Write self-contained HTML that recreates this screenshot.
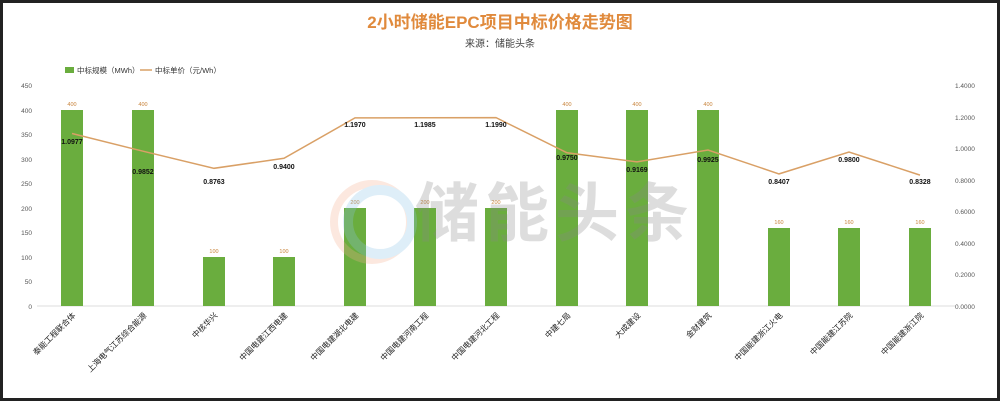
<!DOCTYPE html><html><head><meta charset="utf-8"><style>
body{margin:0;background:#fff}
svg text{font-family:"Liberation Sans","Noto Sans CJK SC",sans-serif}
</style></head><body>
<svg width="1000" height="401" viewBox="0 0 1000 401" xmlns="http://www.w3.org/2000/svg">
<rect x="1.5" y="1.5" width="997" height="398" fill="#fff" stroke="#222" stroke-width="3"/>
<text x="500" y="28" text-anchor="middle" font-size="17" font-weight="bold" fill="#e08a3c">2小时储能EPC项目中标价格走势图</text>
<text x="500" y="47" text-anchor="middle" font-size="10" fill="#444">来源：储能头条</text>
<rect x="65" y="67" width="9" height="6" fill="#6aad3e"/>
<text x="77" y="73" font-size="7.5" fill="#333">中标规模（MWh）</text>
<line x1="140" y1="70" x2="152" y2="70" stroke="#d9a066" stroke-width="1.5"/>
<text x="155" y="73" font-size="7.5" fill="#333">中标单价（元/Wh）</text>
<g font-size="6.5" fill="#555" text-anchor="end">
<text x="32" y="88">450</text><text x="32" y="113">400</text><text x="32" y="137">350</text><text x="32" y="162">300</text><text x="32" y="186">250</text><text x="32" y="211">200</text><text x="32" y="235">150</text><text x="32" y="260">100</text><text x="32" y="284">50</text><text x="32" y="309">0</text>
</g>
<g font-size="6.5" fill="#555">
<text x="955" y="88">1.4000</text><text x="955" y="120">1.2000</text><text x="955" y="151">1.0000</text><text x="955" y="183">0.8000</text><text x="955" y="214">0.6000</text><text x="955" y="246">0.4000</text><text x="955" y="277">0.2000</text><text x="955" y="309">0.0000</text>
</g>
<line x1="37" y1="306" x2="955" y2="306" stroke="#ddd"/>
<g fill="#6aad3e">
<rect x="61" y="110" width="22" height="196"/><rect x="132" y="110" width="22" height="196"/><rect x="203" y="257" width="22" height="49"/><rect x="273" y="257" width="22" height="49"/><rect x="344" y="208" width="22" height="98"/><rect x="414" y="208" width="22" height="98"/><rect x="485" y="208" width="22" height="98"/><rect x="556" y="110" width="22" height="196"/><rect x="626" y="110" width="22" height="196"/><rect x="697" y="110" width="22" height="196"/><rect x="768" y="228" width="22" height="78"/><rect x="838" y="228" width="22" height="78"/><rect x="909" y="228" width="22" height="78"/>
</g>
<g font-size="5.5" fill="#c8843c" text-anchor="middle">
<text x="72" y="106">400</text><text x="143" y="106">400</text><text x="214" y="253">100</text><text x="284" y="253">100</text><text x="355" y="204">200</text><text x="425" y="204">200</text><text x="496" y="204">200</text><text x="567" y="106">400</text><text x="637" y="106">400</text><text x="708" y="106">400</text><text x="779" y="224">160</text><text x="849" y="224">160</text><text x="920" y="224">160</text>
</g>
<g opacity="0.28">
<circle cx="372" cy="222" r="38" fill="none" stroke="#f5b090" stroke-width="8"/>
<circle cx="380" cy="222" r="32" fill="none" stroke="#8dc4e8" stroke-width="10"/>
<text x="555" y="236" text-anchor="middle" font-size="64" font-weight="bold" fill="#888" letter-spacing="6">储能头条</text>
</g>
<polyline fill="none" stroke="#d9a066" stroke-width="1.5" points="72,133.5 143,151.2 214,168.3 284,158.3 355,117.9 425,117.7 496,117.6 567,152.8 637,161.9 708,150 779,173.9 849,152 920,175.1"/>
<g font-size="7" font-weight="bold" fill="#111" text-anchor="middle">
<text x="72" y="144">1.0977</text><text x="143" y="174">0.9852</text><text x="214" y="184">0.8763</text><text x="284" y="169">0.9400</text><text x="355" y="127">1.1970</text><text x="425" y="127">1.1985</text><text x="496" y="127">1.1990</text><text x="567" y="160">0.9750</text><text x="637" y="172">0.9169</text><text x="708" y="162">0.9925</text><text x="779" y="184">0.8407</text><text x="849" y="162">0.9800</text><text x="920" y="184">0.8328</text>
</g>
<g font-size="8" fill="#222" text-anchor="end">
<text transform="translate(76,316) rotate(-45)">泰能工程联合体</text>
<text transform="translate(147,316) rotate(-45)">上海电气江苏综合能源</text>
<text transform="translate(218,316) rotate(-45)">中核华兴</text>
<text transform="translate(288,316) rotate(-45)">中国电建江西电建</text>
<text transform="translate(359,316) rotate(-45)">中国电建湖北电建</text>
<text transform="translate(429,316) rotate(-45)">中国电建河南工程</text>
<text transform="translate(500,316) rotate(-45)">中国电建河北工程</text>
<text transform="translate(571,316) rotate(-45)">中建七局</text>
<text transform="translate(641,316) rotate(-45)">大成建设</text>
<text transform="translate(712,316) rotate(-45)">金财建筑</text>
<text transform="translate(783,316) rotate(-45)">中国能建浙江火电</text>
<text transform="translate(853,316) rotate(-45)">中国能建江苏院</text>
<text transform="translate(924,316) rotate(-45)">中国能建浙江院</text>
</g>
</svg>
</body></html>
